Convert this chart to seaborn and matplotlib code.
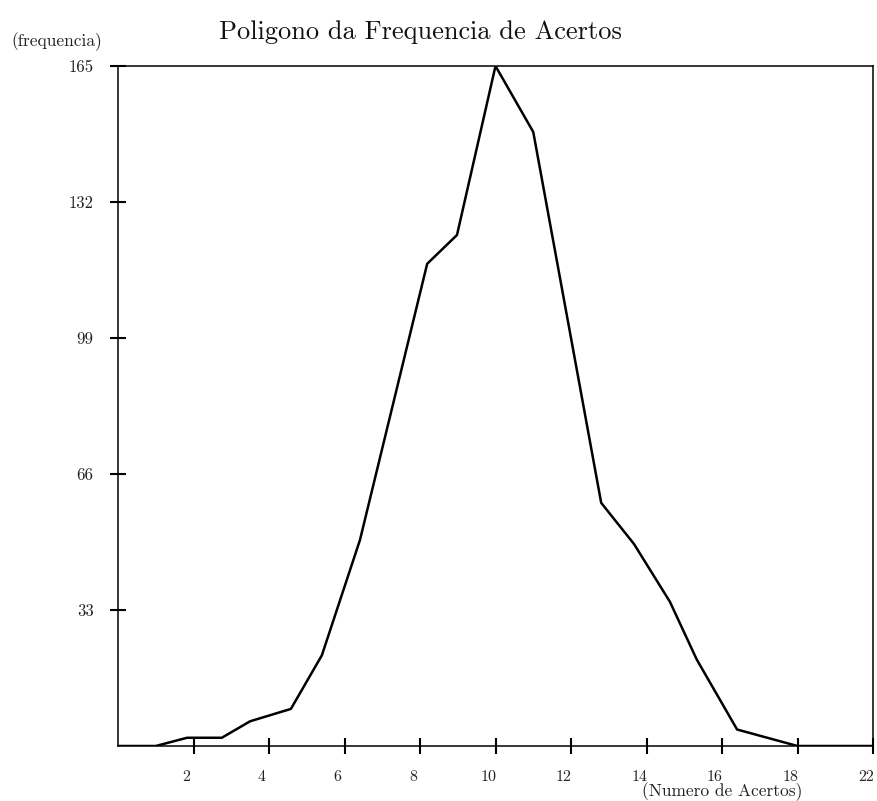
import matplotlib
matplotlib.use("Agg")
import matplotlib.pyplot as plt
import matplotlib.transforms as mtransforms
import seaborn as sns
import pandas as pd

# Frequency polygon: number of hits vs. frequency
acertos = [0.0, 1.0, 1.83, 2.75, 3.5, 4.58, 5.4, 6.41, 8.19, 8.98, 10.0,
           11.0, 12.8, 13.67, 14.62, 15.33, 16.4, 18.0, 20.0]
frequencia = [0, 0, 2, 2, 6, 9, 22, 50, 117, 124, 165,
              149, 59, 49, 35, 21, 4, 0, 0]

x_ticks = [2, 4, 6, 8, 10, 12, 14, 16, 18, 20]
x_tick_labels = ["2", "4", "6", "8", "10", "12", "14", "16", "18", "22"]
y_ticks = [33, 66, 99, 132, 165]
y_tick_labels = ["33", "66", "99", "132", "165"]

sns.set_style("white")
plt.rcParams["font.family"] = ["cmr10", "DejaVu Serif"]
plt.rcParams["axes.formatter.use_mathtext"] = True

df = pd.DataFrame({"acertos": acertos, "frequencia": frequencia})

fig = plt.figure(figsize=(8.77, 8.01), dpi=100)
ax = fig.add_axes([118 / 877, 1 - 746 / 801, (873 - 118) / 877, (746 - 66) / 801])

sns.lineplot(data=df, x="acertos", y="frequencia", sort=False, color="black",
             linewidth=1.8, ax=ax)

ax.set_xlim(0, 20)
ax.set_ylim(0, 165)
ax.set_xlabel("")
ax.set_ylabel("")

ax.set_xticks(x_ticks)
ax.set_xticklabels(x_tick_labels, fontsize=11.5)
ax.set_yticks(y_ticks)
ax.set_yticklabels(y_tick_labels, fontsize=12)
ax.tick_params(axis="both", direction="inout", length=11, width=1.5,
               color="black", labelcolor="#222222", bottom=True, left=True)
ax.tick_params(axis="x", pad=12)
ax.tick_params(axis="y", pad=12)

# nudge x tick labels slightly left
shift = mtransforms.ScaledTranslation(-7 / 100, 0, fig.dpi_scale_trans)
for lbl in ax.get_xticklabels():
    lbl.set_transform(lbl.get_transform() + shift)

for sp in ax.spines.values():
    sp.set_visible(True)
    sp.set_color("black")
    sp.set_linewidth(1.1)

fig.text(420 / 877, 1 - 32 / 801, "Poligono da Frequencia de Acertos",
         ha="center", va="center", fontsize=19, color="#111111")
fig.text(57 / 877, 1 - 42 / 801, "(frequencia)", ha="center", va="center",
         fontsize=12.5, color="#222222")
fig.text(722 / 877, 1 - 792 / 801, "(Numero de Acertos)", ha="center",
         va="center", fontsize=12.5, color="#222222")

fig.savefig("out.png", dpi=100)
